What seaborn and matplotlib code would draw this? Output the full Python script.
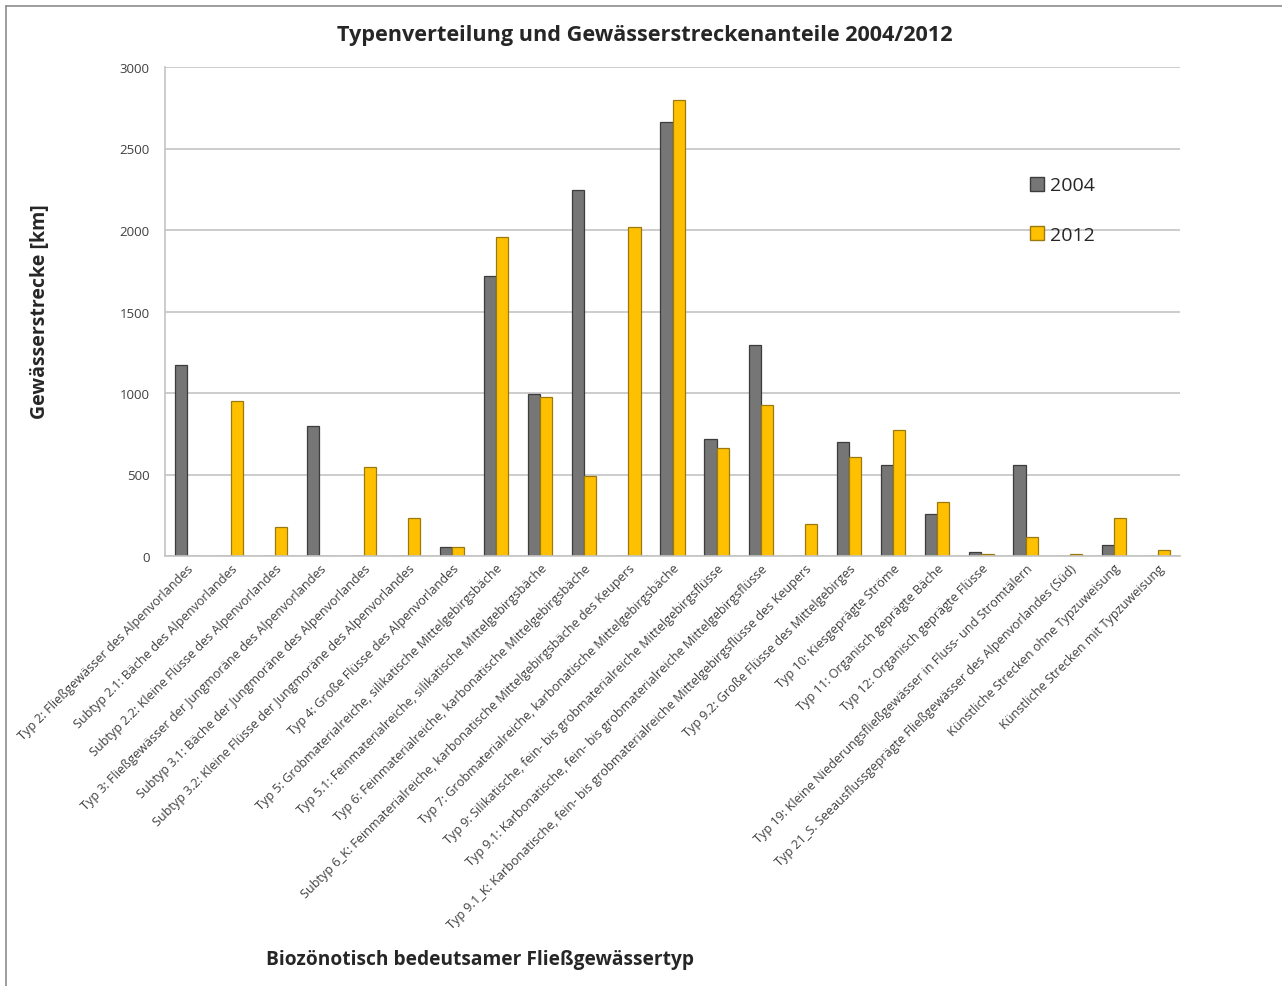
import numpy as np
import pandas as pd
import seaborn as sns
import matplotlib.pyplot as plt
from matplotlib.lines import Line2D

# Gewässertypen (x-Achse)
typen = [
    "Typ 2: Fließgewässer des Alpenvorlandes",
    "Subtyp 2.1: Bäche des Alpenvorlandes",
    "Subtyp 2.2: Kleine Flüsse des Alpenvorlandes",
    "Typ 3: Fließgewässer der Jungmoräne des Alpenvorlandes",
    "Subtyp 3.1: Bäche der Jungmoräne des Alpenvorlandes",
    "Subtyp 3.2: Kleine Flüsse der Jungmoräne des Alpenvorlandes",
    "Typ 4: Große Flüsse des Alpenvorlandes",
    "Typ 5: Grobmaterialreiche, silikatische Mittelgebirgsbäche",
    "Typ 5.1: Feinmaterialreiche, silikatische Mittelgebirgsbäche",
    "Typ 6: Feinmaterialreiche, karbonatische Mittelgebirgsbäche",
    "Subtyp 6_K: Feinmaterialreiche, karbonatische Mittelgebirgsbäche des Keupers",
    "Typ 7: Grobmaterialreiche, karbonatische Mittelgebirgsbäche",
    "Typ 9: Silikatische, fein- bis grobmaterialreiche Mittelgebirgsflüsse",
    "Typ 9.1: Karbonatische, fein- bis grobmaterialreiche Mittelgebirgsflüsse",
    "Typ 9.1_K: Karbonatische, fein- bis grobmaterialreiche Mittelgebirgsflüsse des Keupers",
    "Typ 9.2: Große Flüsse des Mittelgebirges",
    "Typ 10: Kiesgeprägte Ströme",
    "Typ 11: Organisch geprägte Bäche",
    "Typ 12: Organisch geprägte Flüsse",
    "Typ 19: Kleine Niederungsfließgewässer in Fluss- und Stromtälern",
    "Typ 21_S. Seeausflussgeprägte Fließgewässer des Alpenvorlandes (Süd)",
    "Künstliche Strecken ohne Typzuweisung",
    "Künstliche Strecken mit Typzuweisung",
]

# Gewässerstrecke in km
km_2004 = [1173, 0, 0, 795, 0, 0, 57, 1716, 995, 2246, 0, 2662,
           717, 1294, 0, 697, 557, 256, 25, 557, 0, 68, 0]
km_2012 = [0, 948, 180, 0, 543, 236, 57, 1956, 977, 488, 2021, 2795,
           660, 926, 199, 608, 772, 330, 10, 119, 12, 231, 37]

jahre = ["2004", "2012"]

df = pd.DataFrame({
    "typ": typen * 2,
    "km": km_2004 + km_2012,
    "jahr": [jahre[0]] * len(typen) + [jahre[1]] * len(typen),
})

sns.set_style("white")
plt.rcParams['font.family'] = ['Open Sans', 'DejaVu Sans']

fig = plt.figure(figsize=(12.82, 9.87), dpi=100)
ax = fig.add_axes([165/1282, 1-557/987, 1015/1282, 489/987])

ax = sns.barplot(data=df, x="typ", y="km", hue="jahr", order=typen,
                 palette={"2004": "#767676", "2012": "#FFC000"},
                 saturation=1, width=0.55, gap=0, ax=ax, legend=False)

# dunkle Ränder wie im Original
for patch, ec in zip(ax.patches, ["#3c3c3c"] * len(typen) + ["#9a7a10"] * len(typen)):
    patch.set_edgecolor(ec)
    patch.set_linewidth(0.9)

ax.set_ylim(0, 3000)
ax.set_xlim(-0.5, len(typen) - 0.5)
ax.set_yticks([0, 500, 1000, 1500, 2000, 2500, 3000])
ax.yaxis.grid(True, color="#c4c4c4", linewidth=1.2)
ax.set_axisbelow(True)
for s in ["top", "right"]:
    ax.spines[s].set_visible(False)
ax.spines["left"].set_color("#c4c4c4")
ax.spines["bottom"].set_color("#c4c4c4")
ax.spines["left"].set_linewidth(1.2)
ax.spines["bottom"].set_linewidth(1.2)
ax.tick_params(axis="y", length=5, color="#c4c4c4", labelsize=9.5, labelcolor="#404040", pad=6)
ax.tick_params(axis="x", length=0, labelsize=9.1, labelcolor="#404040", pad=4)
ax.set_xticks(range(len(typen)))
ax.set_xticklabels(typen, rotation=45, ha="right", rotation_mode="anchor")
ax.set_xlabel("")
ax.set_ylabel("")

fig.text(0.503, 1-36/987, "Typenverteilung und Gewässerstreckenanteile 2004/2012",
         ha="center", va="center", fontsize=15.6, fontweight="bold")
fig.text(40/1282, 1-312/987, "Gewässerstrecke [km]", rotation=90,
         ha="center", va="center", fontsize=14, fontweight="bold")
fig.text(480/1282, 1-960/987, "Biozönotisch bedeutsamer Fließgewässertyp",
         ha="center", va="center", fontsize=13.8, fontweight="bold")

handles = [plt.Rectangle((0, 0), 1, 1, facecolor="#767676", edgecolor="#3c3c3c"),
           plt.Rectangle((0, 0), 1, 1, facecolor="#FFC000", edgecolor="#9a7a10")]
fig.legend(handles, jahre, loc="upper left", bbox_to_anchor=(1012/1282, 1-160/987),
           frameon=False, fontsize=14, labelspacing=1.6, handlelength=0.75,
           handleheight=0.75, handletextpad=0.3)

# Rahmen des Diagrammbereichs
fig.add_artist(Line2D([6/1282, 6/1282], [0, 1-7/987], transform=fig.transFigure,
                      color="#8c8c8c", linewidth=1.2))
fig.add_artist(Line2D([6/1282, 1], [1-7/987, 1-7/987], transform=fig.transFigure,
                      color="#8c8c8c", linewidth=1.2))

fig.savefig("out.png", dpi=100, facecolor="white")
